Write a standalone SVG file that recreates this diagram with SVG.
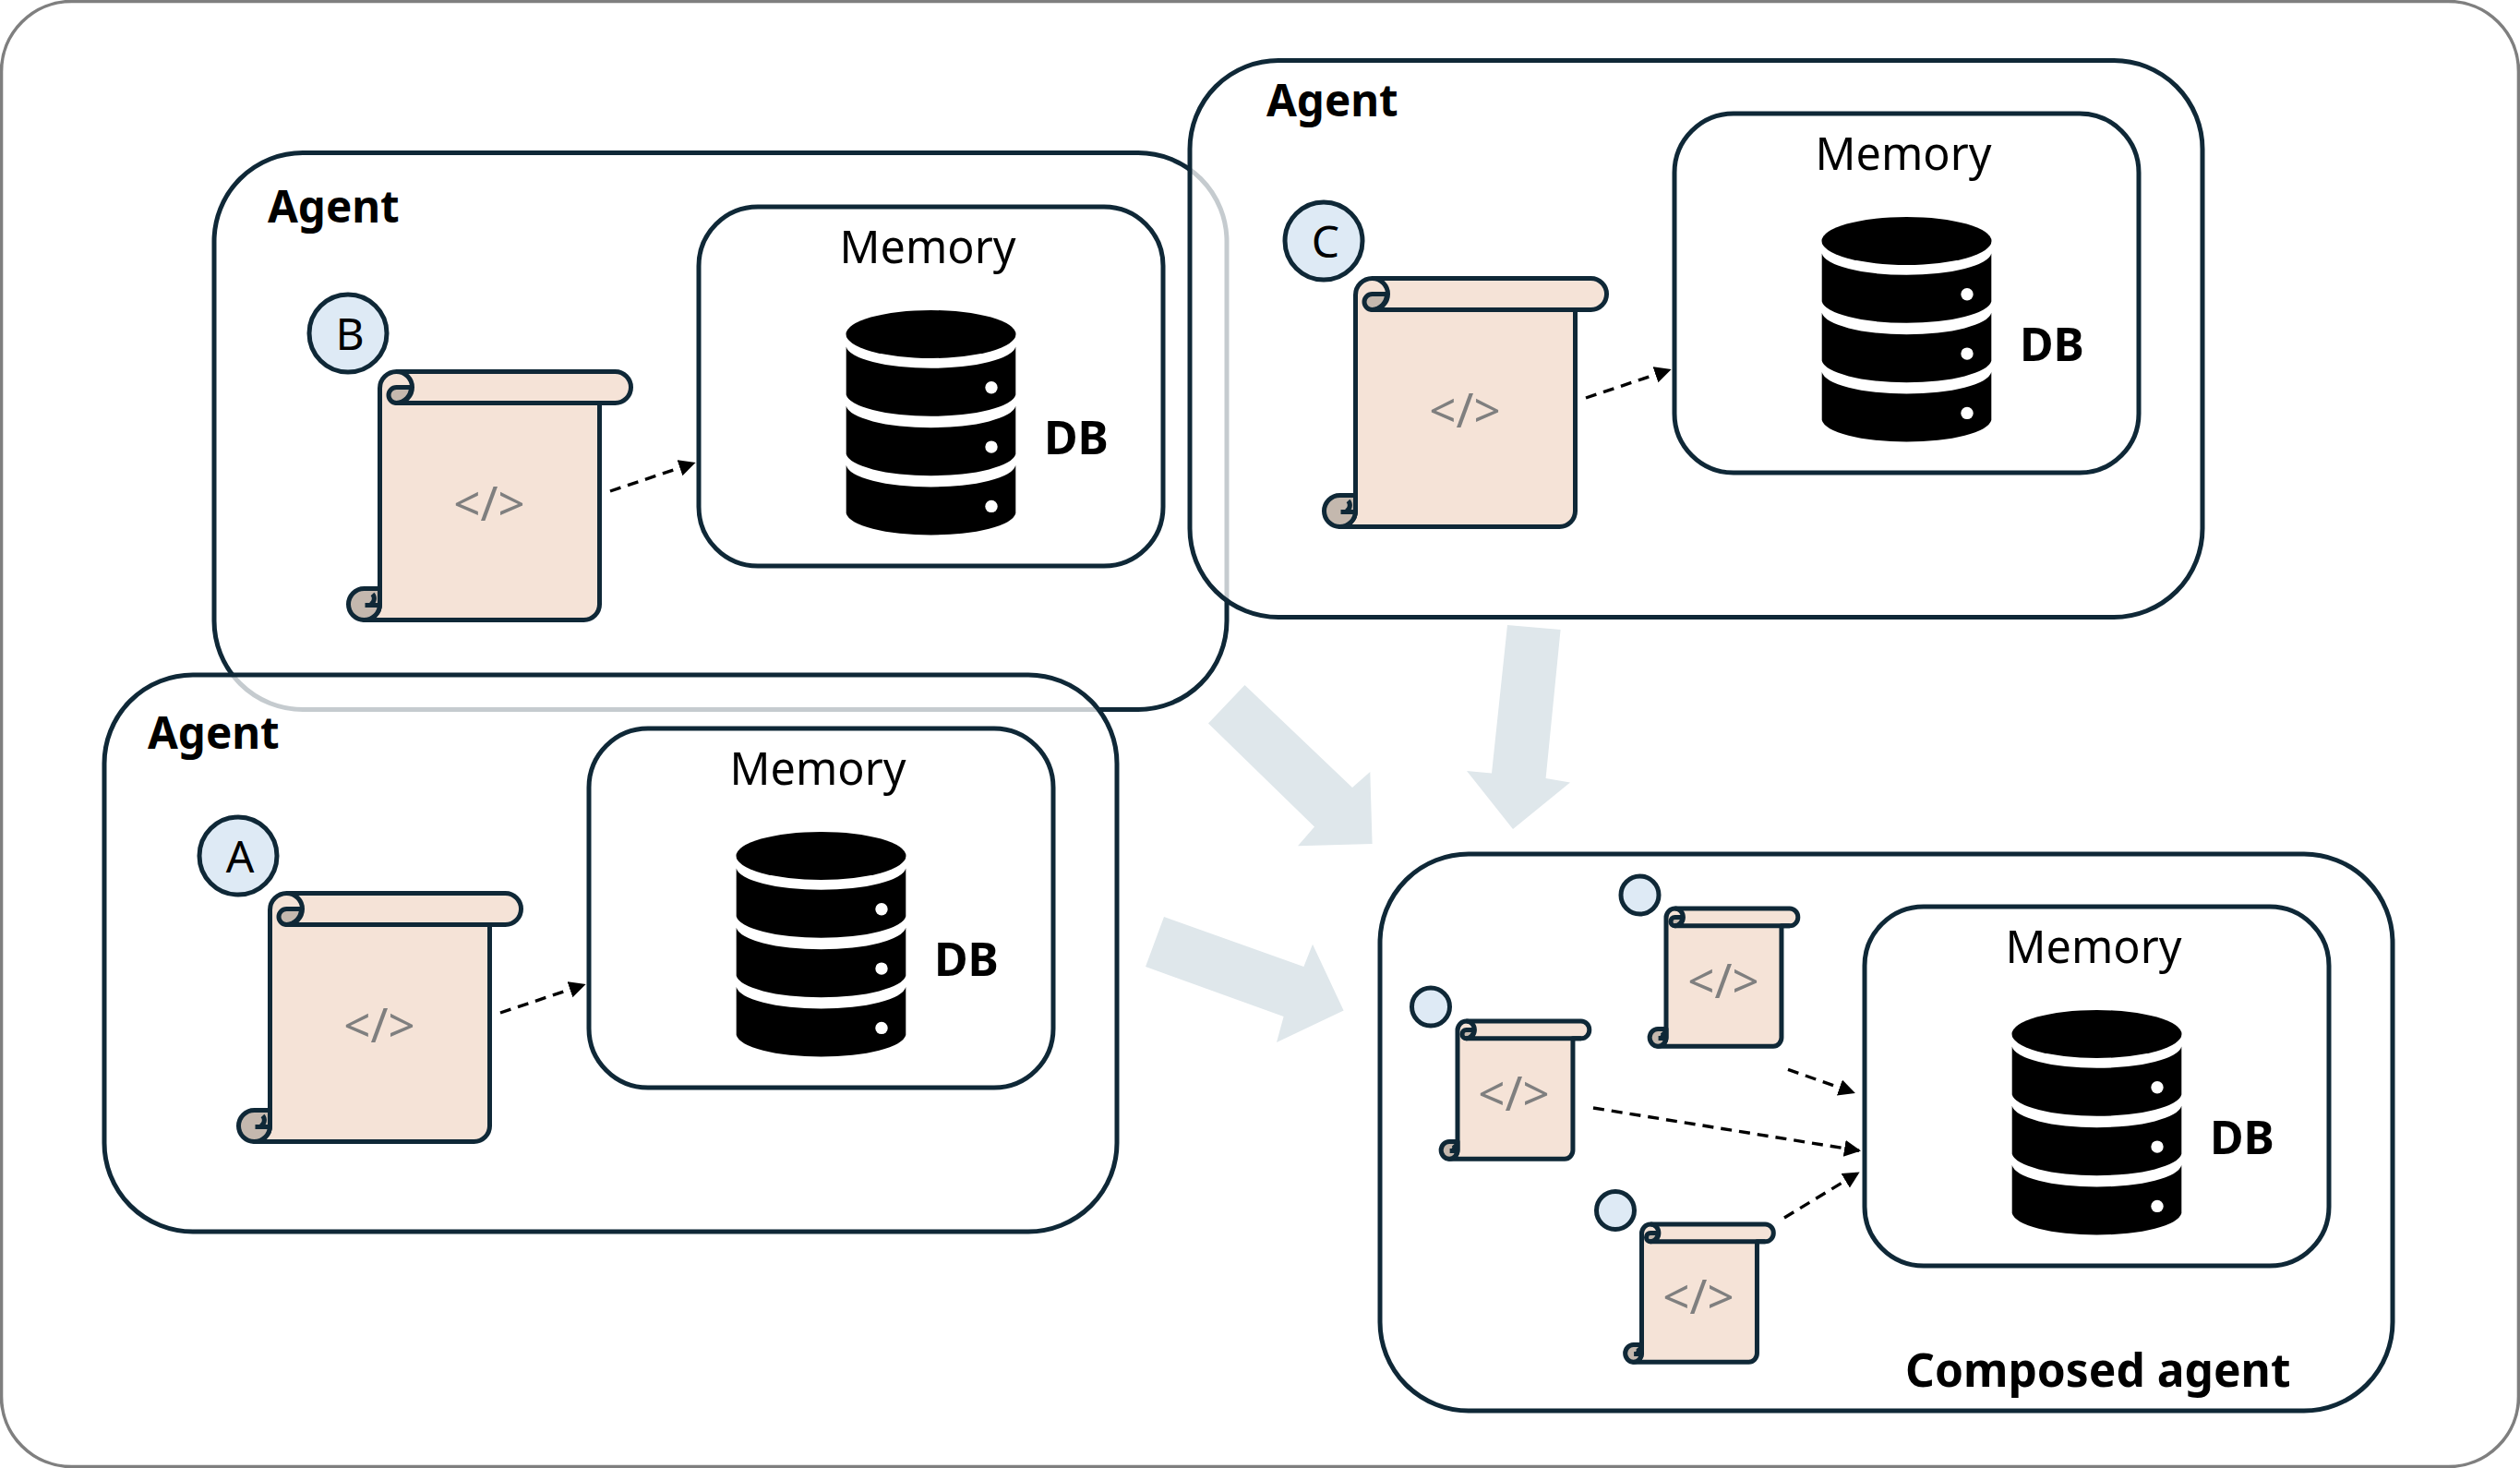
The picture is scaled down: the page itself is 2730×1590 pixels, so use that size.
<svg xmlns="http://www.w3.org/2000/svg" width="2730" height="1590" viewBox="0 0 2730 1590">
<style>
text{font-family:"Noto Sans","Liberation Sans",sans-serif;fill:#000}
.frame{fill:#fff;stroke:#7f7f7f;stroke-width:3.6}
.agent{fill:#fff;fill-opacity:.76;stroke:#0f2837;stroke-width:5}
.agent-b{fill:#fff;stroke:#0f2837;stroke-width:5}
.mem{fill:#fff;stroke:#0f2837;stroke-width:5}
.lbl{font-size:48.5px}
.bold{font-size:47.5px;font-weight:700}
.db-l{font-size:50px;font-weight:700}
.mid{text-anchor:middle}
.code{font-size:51px;fill:#7f7f7f;text-anchor:middle}
.badge{fill:#deeaf5;stroke:#0f2837;stroke-width:5}
.sp{stroke:#0f2837;stroke-width:5;vector-effect:non-scaling-stroke;stroke-linejoin:round}
.paper{fill:#f5e3d7}
.shade{fill:#c4b8ae}
.none{fill:none}
.dash{fill:none;stroke:#000;stroke-width:3.4;stroke-dasharray:12 8;marker-end:url(#head)}
.big{fill:#dfe7eb}
</style>
<defs>
<marker id="head" markerUnits="userSpaceOnUse" markerWidth="22" markerHeight="22" refX="16" refY="9" orient="auto">
<path d="M0,0L18,9L0,18Z" fill="#000"/>
</marker>
<g id="scroll">
<path class="sp paper" d="M0,18V252A17,17 0 0 1 -17,269H221A17,17 0 0 0 238,252V34H255A17,17 0 0 0 255,0H18A18,18 0 0 0 0,18Z"/>
<path class="sp shade" d="M-17,235H0V252A17,17 0 0 1 -17,269A17,17 0 0 1 -17,235Z"/>
<path class="sp none" d="M-16,253H0M-8,241A7,7 0 0 1 -10,252"/>
<path class="sp shade" d="M18,17H34A17,17 0 0 1 18,34A8.5,8.5 0 0 1 18,17Z"/>
<path class="sp none" d="M18,0A17,17 0 0 1 18,34H255"/>
</g>
<g id="db">
<ellipse cx="1008.5" cy="362" rx="92" ry="26"/>
<path id="band" d="M916.7,375.5A92,25 0 0 0 1100.3,375.5V427.5A92,25 0 0 1 916.7,427.5Z"/>
<use href="#band" y="64.3"/>
<use href="#band" y="128.6"/>
<circle cx="1074" cy="419.8" r="6.7" fill="#fff"/>
<circle cx="1074" cy="484.1" r="6.7" fill="#fff"/>
<circle cx="1074" cy="548.4" r="6.7" fill="#fff"/>
</g>
<g id="memory">
<rect class="mem" x="757" y="224" width="503" height="389" rx="64"/>
<text class="lbl mid" x="1005" y="285">Memory</text>
<use href="#db"/>
<text class="db-l" x="1131" y="492">DB</text>
</g>
<g id="inner">
<use href="#scroll" x="411.5" y="402.5"/>
<text class="code" x="530" y="564">&lt;/&gt;</text>
<line class="dash" x1="661" y1="532" x2="751.7" y2="501.6"/>
<use href="#memory"/>
</g>
</defs>
<rect class="frame" x="1.5" y="1.5" width="2727" height="1587" rx="76"/>

<g id="agent-b">
<rect class="agent-b" x="232" y="165.5" width="1097" height="603" rx="96"/>
<text class="bold" x="290" y="241">Agent</text>
<circle class="badge" cx="377" cy="361" r="42"/>
<text class="mid" style="font-size:48px" x="379" y="379">B</text>
<use href="#inner"/>
</g>

<g id="agent-a">
<rect class="agent" x="113" y="731" width="1097" height="603" rx="96"/>
<text class="bold" x="160" y="811">Agent</text>
<circle class="badge" cx="258" cy="927" r="42"/>
<text class="mid" style="font-size:48px" x="260" y="945">A</text>
<use href="#inner" x="-119" y="565"/>
</g>

<g id="agent-c">
<rect class="agent" x="1289" y="65.5" width="1097" height="603" rx="96"/>
<text class="bold" x="1372" y="126">Agent</text>
<circle class="badge" cx="1434" cy="261" r="42"/>
<text class="mid" style="font-size:48px" x="1436" y="279">C</text>
<use href="#inner" x="1057" y="-101"/>
</g>

<g id="composed-agent">
<rect class="mem" x="1495" y="925" width="1097" height="603" rx="96"/>
<use href="#memory" x="1263" y="758"/>
<text class="bold" style="font-size:49.7px" x="2064" y="1502">Composed agent</text>
</g>

<g id="scroll-1">
<circle class="badge" cx="1550" cy="1090.5" r="20.5"/>
<use href="#scroll" transform="translate(1579,1106) scale(.525,.555)"/>
<text class="code" x="1640" y="1203">&lt;/&gt;</text>
</g>
<g id="scroll-2">
<circle class="badge" cx="1776.5" cy="969.5" r="20.5"/>
<use href="#scroll" transform="translate(1805,984) scale(.525,.555)"/>
<text class="code" x="1867" y="1081">&lt;/&gt;</text>
</g>
<g id="scroll-3">
<circle class="badge" cx="1750" cy="1311" r="20.5"/>
<use href="#scroll" transform="translate(1778.5,1326) scale(.525,.555)"/>
<text class="code" x="1840" y="1423">&lt;/&gt;</text>
</g>

<g id="connectors">
<line class="dash" x1="1937" y1="1158.4" x2="2008" y2="1183.3"/>
<line class="dash" x1="1726" y1="1200" x2="2014" y2="1246.3"/>
<line class="dash" x1="1933" y1="1319" x2="2012.9" y2="1270.5"/>
<polygon class="big" points="1348.5,742 1309,783.5 1424,895.6 1406,916.3 1486.6,914 1484.3,836 1465,853"/>
<polygon class="big" points="1633,677 1690.6,682 1674.6,843 1701,847.4 1639,898 1589,835 1616,837.5"/>
<polygon class="big" points="1261,993 1241,1047 1390.6,1101 1383,1129 1455.6,1094.6 1422,1022.7 1412.4,1047"/>
</g>
</svg>
